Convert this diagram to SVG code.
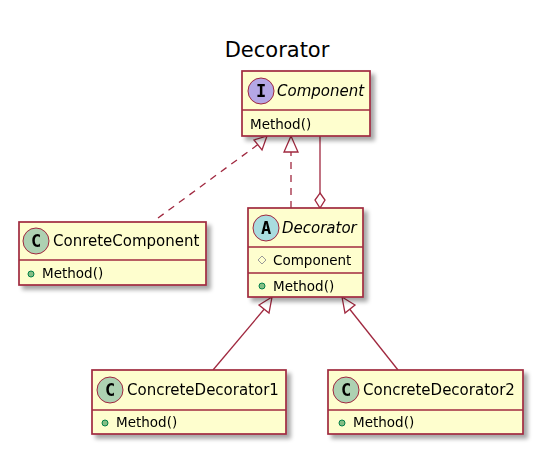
<svg xmlns="http://www.w3.org/2000/svg" width="547" height="460" viewBox="0 0 547 460">
<defs>
<filter id="sh" x="-10%" y="-10%" width="130%" height="140%">
<feGaussianBlur in="SourceAlpha" stdDeviation="2"/>
<feOffset dx="4" dy="4" result="b"/>
<feComponentTransfer><feFuncA type="linear" slope="0.35"/></feComponentTransfer>
<feMerge><feMergeNode/><feMergeNode in="SourceGraphic"/></feMerge>
</filter>
</defs>
<style>
.box{fill:#FEFECE;stroke:#A0283F;stroke-width:1.7}
.sep{stroke:#A0283F;stroke-width:1.6}
.t{font-family:"DejaVu Sans",sans-serif;font-size:15px;fill:#000}
.ti{font-family:"DejaVu Sans",sans-serif;font-size:15px;font-style:oblique;fill:#000}
.m{font-family:"DejaVu Sans",sans-serif;font-size:13.5px;fill:#000}
.ic{stroke:#A0283F;stroke-width:1}
.L{font-family:"DejaVu Sans Mono","Liberation Mono",monospace;font-size:17px;font-weight:bold;fill:#000}
.ln{fill:none;stroke:#A0283F;stroke-width:1.3}
.dash{stroke-dasharray:7,6}
.tri{fill:#FFFFFF;stroke:#A0283F;stroke-width:1.3}
.pub{fill:#84BE84;stroke:#038048;stroke-width:1}
</style>
<rect width="547" height="460" fill="#FFFFFF"/>
<text x="277" y="57" text-anchor="middle" font-family="DejaVu Sans,sans-serif" font-size="21" fill="#000">Decorator</text>

<g id="edges">
<path class="ln dash" d="M158,218 L260,143"/>
<polygon class="tri" points="267,136 254,140 262,150"/>
<path class="ln dash" d="M291,208 L291,152"/>
<polygon class="tri" points="291,136 284,152 298,152"/>
<path class="ln" d="M320,136 L320,195"/>
<polygon class="tri" points="320,193 325,200 320,208 315,200"/>
<path class="ln" d="M213,370 L266,307"/>
<polygon class="tri" points="272,297 259,305 269,313"/>
<path class="ln" d="M398,370 L348,307"/>
<polygon class="tri" points="342,297 345,313 355,305"/>
</g>

<g id="Component" filter="url(#sh)">
<rect class="box" x="242" y="71" width="128" height="65"/>
<line class="sep" x1="242" y1="110" x2="370" y2="110"/>
<circle class="ic" cx="261" cy="91" r="13" fill="#B4A7E5"/>
<text class="L" x="261" y="97" text-anchor="middle">I</text>
<text class="ti" x="277" y="96">Component</text>
<text class="m" x="250" y="129">Method()</text>
</g>

<g id="ConreteComponent" filter="url(#sh)">
<rect class="box" x="19" y="222" width="187" height="63"/>
<line class="sep" x1="19" y1="260" x2="206" y2="260"/>
<circle class="ic" cx="36" cy="241" r="13" fill="#ADD1B2"/>
<text class="L" x="36" y="247" text-anchor="middle">C</text>
<text class="t" x="53" y="246">ConreteComponent</text>
<circle class="pub" cx="31" cy="274" r="3"/>
<text class="m" x="42" y="278">Method()</text>
</g>

<g id="Decorator" filter="url(#sh)">
<rect class="box" x="248" y="208" width="115" height="89"/>
<line class="sep" x1="248" y1="247" x2="363" y2="247"/>
<line class="sep" x1="248" y1="273" x2="363" y2="273"/>
<circle class="ic" cx="266" cy="228" r="13" fill="#A9DCDF"/>
<text class="L" x="266" y="234" text-anchor="middle">A</text>
<text class="ti" x="282" y="233">Decorator</text>
<polygon points="262,256 266,260 262,264 258,260" fill="none" stroke="#999999" stroke-width="1"/>
<text class="m" x="273" y="265">Component</text>
<circle class="pub" cx="262" cy="286" r="3"/>
<text class="m" x="273" y="291">Method()</text>
</g>

<g id="ConcreteDecorator1" filter="url(#sh)">
<rect class="box" x="92" y="370" width="194" height="64"/>
<line class="sep" x1="92" y1="410" x2="286" y2="410"/>
<circle class="ic" cx="110" cy="390" r="13" fill="#ADD1B2"/>
<text class="L" x="110" y="396" text-anchor="middle">C</text>
<text class="t" x="127" y="395">ConcreteDecorator1</text>
<circle class="pub" cx="105" cy="423" r="3"/>
<text class="m" x="116" y="427">Method()</text>
</g>

<g id="ConcreteDecorator2" filter="url(#sh)">
<rect class="box" x="328" y="370" width="195" height="64"/>
<line class="sep" x1="328" y1="410" x2="523" y2="410"/>
<circle class="ic" cx="346" cy="390" r="13" fill="#ADD1B2"/>
<text class="L" x="346" y="396" text-anchor="middle">C</text>
<text class="t" x="363" y="395">ConcreteDecorator2</text>
<circle class="pub" cx="342" cy="423" r="3"/>
<text class="m" x="353" y="427">Method()</text>
</g>
</svg>
